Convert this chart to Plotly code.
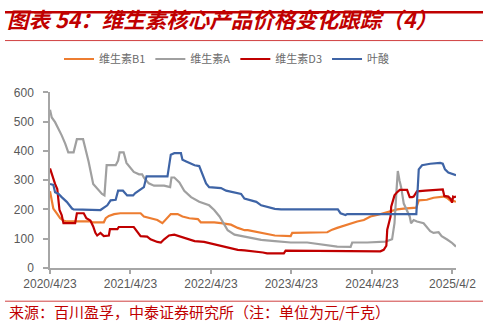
import plotly.graph_objects as go

# ---------------- data ----------------
b1_dates = ["2020-04-23","2020-05-01","2020-05-08","2020-05-23","2020-06-08","2020-06-23","2020-07-08",
            "2020-10-23","2020-11-01","2020-12-23","2021-01-01","2021-01-15","2021-02-08","2021-03-08",
            "2021-06-08","2021-06-23","2021-07-23","2021-08-23","2021-09-15","2021-10-08","2021-10-23",
            "2021-11-23","2021-12-15","2022-01-15","2022-02-23","2022-03-08","2022-05-08","2022-06-08",
            "2022-07-23","2022-08-23","2022-09-23","2022-10-07","2022-12-07","2023-02-07","2023-04-20",
            "2023-04-27","2023-10-03","2023-10-25","2023-11-17","2023-12-17","2024-01-17","2024-02-16",
            "2024-03-17","2024-04-16","2024-05-16","2024-06-15","2024-07-16","2024-08-15","2024-09-14",
            "2024-11-10","2024-11-21","2024-12-28","2025-01-27","2025-03-13","2025-03-28","2025-04-12",
            "2025-04-27","2025-05-09"]
b1_values = [262,226,203,187,170,162,159,
             159,156,156,170,178,184,187,
             187,176,170,164,153,170,184,
             184,176,170,167,156,156,153,
             148,137,129,129,120,111,109,
             120,122,131,137,144,153,159,
             164,176,181,187,192,200,203,
             206,231,233,240,244,240,231,
             229,226]

va_dates = ["2020-04-23","2020-05-01","2020-05-16","2020-06-01","2020-06-15","2020-07-01","2020-07-15",
            "2020-08-08","2020-08-23","2020-09-20","2020-10-01","2020-10-15","2020-11-05","2020-11-23",
            "2020-12-15","2020-12-26","2021-01-05","2021-02-15","2021-02-26","2021-03-05","2021-03-23",
            "2021-04-05","2021-04-23","2021-05-08","2021-06-01","2021-06-15","2021-06-23","2021-07-15",
            "2021-08-08","2021-09-23","2021-10-20","2021-10-26","2021-11-08","2021-12-01","2021-12-23",
            "2022-01-23","2022-03-01","2022-04-15","2022-05-08","2022-06-01","2022-06-23","2022-07-08",
            "2022-08-08","2022-09-23","2022-11-07","2022-12-07","2023-02-07","2023-04-20","2023-07-04",
            "2023-09-03","2023-11-17","2024-01-17","2024-01-24","2024-04-01","2024-05-31","2024-06-23",
            "2024-07-23","2024-08-03","2024-08-12","2024-08-18","2024-08-26","2024-09-02","2024-09-14",
            "2024-09-29","2024-10-11","2024-10-17","2024-10-29","2024-11-13","2024-12-13","2025-01-12",
            "2025-01-27","2025-02-19","2025-03-05","2025-03-28","2025-04-19","2025-05-09"]
va_values = [540,514,498,476,453,425,395,
             395,440,440,409,364,287,270,
             253,248,351,351,367,395,395,
             359,342,328,320,320,309,289,
             281,281,276,309,309,292,264,
             242,226,214,198,176,148,129,
             114,108,100,96,92,87,87,
             81,73,72,87,87,90,90,
             98,153,264,331,298,276,220,
             198,176,153,164,159,153,126,
             120,122,109,98,87,73]

d3_dates = ["2020-04-23","2020-05-01","2020-05-16","2020-05-26","2020-06-05","2020-06-15","2020-06-23",
            "2020-08-15","2020-08-23","2020-09-23","2020-10-05","2020-10-23","2020-11-05","2020-11-15",
            "2020-11-23","2020-12-08","2020-12-23","2021-01-15","2021-01-20","2021-02-23","2021-03-01",
            "2021-05-08","2021-05-23","2021-06-08","2021-07-08","2021-07-23","2021-08-23","2021-09-08",
            "2021-09-23","2021-10-15","2021-11-08","2021-12-08","2022-01-08","2022-02-08","2022-03-23",
            "2022-05-08","2022-06-08","2022-07-23","2022-08-23","2022-09-23","2022-10-23","2022-11-07",
            "2022-12-15","2023-01-03","2023-03-20","2023-03-28","2023-09-03","2023-11-17","2024-05-31",
            "2024-06-15","2024-06-27","2024-07-01","2024-07-08","2024-07-16","2024-07-19","2024-08-03",
            "2024-08-15","2024-08-27","2024-09-29","2024-10-11","2024-10-22","2024-10-29","2024-11-13",
            "2024-11-28","2024-12-21","2025-03-10","2025-03-17","2025-04-04","2025-04-15","2025-04-21",
            "2025-04-26","2025-05-01","2025-05-09"]
d3_values = [340,320,287,270,198,181,153,
             153,187,187,170,162,142,120,
             111,120,109,111,133,133,140,
             140,126,109,107,98,89,87,
             98,111,114,107,98,92,89,
             81,76,67,62,60,58,55,
             53,50,50,59,59,57,57,
             62,76,131,153,176,209,248,
             259,267,267,242,242,244,262,
             262,264,268,246,244,235,223,
             244,242,244]

fa_dates = ["2020-04-23","2020-05-08","2020-05-16","2020-06-01","2020-06-15","2020-07-08","2020-08-01",
            "2020-08-08","2020-12-08","2020-12-23","2021-01-08","2021-01-23","2021-02-15","2021-02-26",
            "2021-03-20","2021-04-08","2021-05-05","2021-05-15","2021-06-08","2021-06-23","2021-07-05",
            "2021-10-08","2021-10-23","2021-11-08","2021-12-08","2021-12-15","2022-01-01","2022-02-08",
            "2022-03-01","2022-03-15","2022-04-01","2022-04-15","2022-06-08","2022-07-01","2022-08-08",
            "2022-09-07","2022-09-22","2022-11-15","2022-12-07","2023-01-07","2023-02-07","2023-03-07",
            "2023-11-20","2023-12-02","2023-12-25","2024-01-01","2024-11-10","2024-11-21","2024-12-06",
            "2025-01-12","2025-02-26","2025-03-10","2025-03-20","2025-04-04","2025-04-27","2025-05-09"]
fa_values = [287,284,259,253,242,226,203,
             200,198,206,214,231,233,264,
             264,248,248,256,267,276,313,
             313,387,392,392,370,364,351,
             348,320,289,276,273,264,259,
             253,237,226,214,207,202,200,
             200,187,181,184,184,337,351,
             356,359,356,337,326,320,317]

series_names = ["维生素B1", "维生素A", "维生素D3", "叶酸"]
series_colors = ["#ED7D31", "#A0A0A0", "#C00000", "#3E64A6"]

tick_dates = ["2020-04-23","2021-04-23","2022-04-23","2023-04-23","2024-04-23","2025-04-23"]
tick_labels = ["2020/4/23","2021/4/23","2022/4/23","2023/4/23","2024/4/23","2025/4/2"]
y_ticks = [0, 100, 200, 300, 400, 500, 600]

title_text = "图表 54：维生素核心产品价格变化跟踪（4）"
source_text = "来源：百川盈孚，中泰证券研究所（注：单位为元/千克）"

# ---------------- figure ----------------
W, H = 488, 325
ML, MR, MT, MB = 50, 32, 88, 57
PW, PH = W - ML - MR, H - MT - MB

def px_x(x):
    return (x - ML) / PW

def px_y(y):
    return (H - MB - y) / PH

fig = go.Figure()
all_series = [(b1_dates, b1_values), (va_dates, va_values), (d3_dates, d3_values), (fa_dates, fa_values)]
for (xs, ys), name, color in zip(all_series, series_names, series_colors):
    fig.add_trace(go.Scatter(x=xs, y=ys, name=name, mode="lines",
                             line=dict(color=color, width=2.2)))

axis_color = "#A6A6A6"
tick_font = dict(family="Liberation Sans, Arial, sans-serif", size=12, color="#595959")

fig.update_layout(
    width=W, height=H,
    margin=dict(l=ML, r=MR, t=MT, b=MB),
    paper_bgcolor="white", plot_bgcolor="white",
    showlegend=True,
    legend=dict(orientation="h", xref="container", yref="container",
                x=227 / W, xanchor="center", y=1 - 59 / H, yanchor="middle",
                font=dict(family="Noto Sans CJK SC", size=11, color="#6b6b6b"),
                bgcolor="rgba(0,0,0,0)"),
    title=dict(text=title_text, xref="container", yref="container",
               x=7 / W, xanchor="left", y=1 - 20 / H, yanchor="middle",
               font=dict(family="Noto Sans CJK SC", size=21.5, color="#C00000",
                         weight="bold", style="italic")),
    xaxis=dict(type="date", range=["2020-04-23", "2025-05-09"],
               tickvals=tick_dates, ticktext=tick_labels,
               showgrid=False, zeroline=False, showline=True,
               linecolor=axis_color, linewidth=1.5,
               ticks="outside", ticklen=4, tickcolor=axis_color, tickwidth=1.5,
               tickfont=tick_font),
    yaxis=dict(range=[0, 600], tickvals=y_ticks,
               showgrid=False, zeroline=False, showline=True,
               linecolor=axis_color, linewidth=1.5,
               ticks="outside", ticklen=5, tickcolor=axis_color, tickwidth=1.5,
               tickfont=tick_font, ticklabelstandoff=7),
)

red = "#C00000"
fig.add_shape(type="line", xref="paper", yref="paper",
              x0=px_x(5), x1=px_x(483), y0=px_y(6), y1=px_y(6),
              line=dict(color=red, width=2.5))
fig.add_shape(type="line", xref="paper", yref="paper",
              x0=px_x(5), x1=px_x(483), y0=px_y(35), y1=px_y(35),
              line=dict(color="#D04040", width=1))
fig.add_shape(type="line", xref="paper", yref="paper",
              x0=px_x(5), x1=px_x(483), y0=px_y(302), y1=px_y(302),
              line=dict(color="#D04040", width=1))
fig.add_annotation(text=source_text, xref="paper", yref="paper",
                   x=px_x(7), xanchor="left", y=px_y(313), yanchor="middle",
                   showarrow=False,
                   font=dict(family="Noto Sans CJK SC", size=15, color=red))

fig.write_html("out.html")
